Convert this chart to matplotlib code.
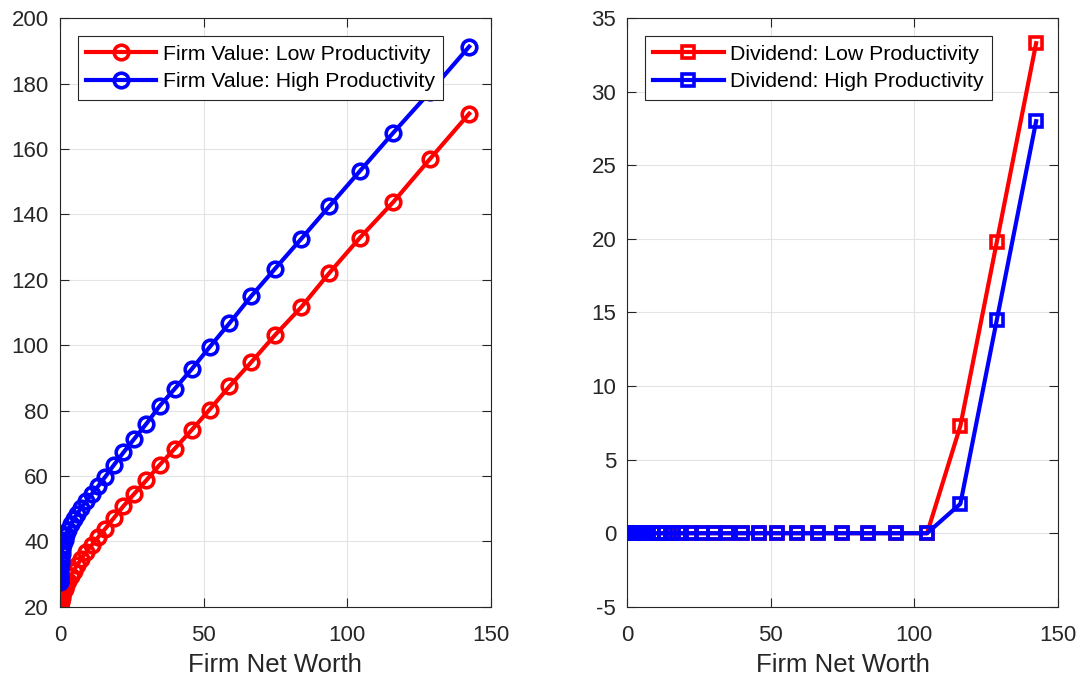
import matplotlib
matplotlib.use("Agg")
import matplotlib.pyplot as plt

plt.rcParams["font.family"] = ["Liberation Sans", "DejaVu Sans"]
plt.rcParams["axes.unicode_minus"] = False

# net worth grid (dense near zero)
net_worth = [0.0, 0.0001, 0.001, 0.005, 0.015, 0.035, 0.073, 0.135, 0.23, 0.37,
             0.56, 0.83, 1.17, 1.62, 2.18, 2.87, 3.71, 4.73, 5.95, 7.38,
             9.06, 11.0, 13.3, 15.8, 18.8, 22.1, 25.9, 30.1, 34.8, 40.0,
             45.8, 52.1, 59.0, 66.6, 74.9, 84.0, 93.8, 104.5, 116.1, 128.8,
             142.5]

value_low = [20.0, 20.0, 20.0, 20.1, 20.3, 20.5, 20.7, 21.1, 21.5, 22.1,
             22.7, 23.5, 24.4, 25.5, 26.6, 27.9, 29.4, 31.0, 32.7, 34.6,
             36.7, 38.8, 41.3, 43.9, 47.2, 50.8, 54.6, 58.7, 63.5, 68.4,
             74.0, 80.3, 87.4, 94.8, 103.1, 111.6, 122.1, 132.9, 143.8, 156.9,
             170.8]

value_high = [27.5, 27.8, 28.2, 28.8, 29.5, 30.3, 31.3, 32.3, 33.5, 34.7,
              36.0, 37.4, 38.9, 40.5, 42.0, 43.6, 45.2, 46.8, 48.4, 50.2,
              52.2, 54.4, 56.9, 59.8, 63.4, 67.2, 71.4, 76.0, 81.5, 86.7,
              92.6, 99.4, 106.7, 115.0, 123.4, 132.5, 142.5, 153.3, 165.0, 177.4,
              191.3]

div_low = [0.0, 0.0, 0.0, 0.0, 0.0, 0.0, 0.0, 0.0, 0.0, 0.0,
           0.0, 0.0, 0.0, 0.0, 0.0, 0.0, 0.0, 0.0, 0.0, 0.0,
           0.0, 0.0, 0.0, 0.0, 0.0, 0.0, 0.0, 0.0, 0.0, 0.0,
           0.0, 0.0, 0.0, 0.0, 0.0, 0.0, 0.0, 0.0, 7.3, 19.8,
           33.3]

div_high = [0.0, 0.0, 0.0, 0.0, 0.0, 0.0, 0.0, 0.0, 0.0, 0.0,
            0.0, 0.0, 0.0, 0.0, 0.0, 0.0, 0.0, 0.0, 0.0, 0.0,
            0.0, 0.0, 0.0, 0.0, 0.0, 0.0, 0.0, 0.0, 0.0, 0.0,
            0.0, 0.0, 0.0, 0.0, 0.0, 0.0, 0.0, 0.0, 2.0, 14.5,
            28.0]

x_ticks = [0, 50, 100, 150]
value_ticks = [20, 40, 60, 80, 100, 120, 140, 160, 180, 200]
div_ticks = [-5, 0, 5, 10, 15, 20, 25, 30, 35]

DARK = "#262626"

fig = plt.figure(figsize=(10.83, 6.83), dpi=100)
ax1 = fig.add_axes([0.0554, 0.1116, 0.3977, 0.8618])
ax2 = fig.add_axes([0.5792, 0.1116, 0.3974, 0.8618])


def style_axes(ax, yticks, ylim):
    ax.set_xlim(0, 150)
    ax.set_ylim(*ylim)
    ax.set_xticks(x_ticks)
    ax.set_yticks(yticks)
    ax.grid(True, color="#e3e3e3", linewidth=0.8)
    ax.set_axisbelow(True)
    for s in ax.spines.values():
        s.set_color(DARK)
        s.set_linewidth(0.8)
    ax.tick_params(direction="in", top=True, right=True, length=6.5, width=0.8,
                   color=DARK, labelcolor=DARK, labelsize=16)
    ax.tick_params(axis="x", pad=13)
    ax.tick_params(axis="y", pad=8)
    ax.set_xlabel("Firm Net Worth", fontsize=18.5, color=DARK, labelpad=5)


line_kw = dict(linewidth=3.0, markerfacecolor="none", markeredgewidth=2.6)

ax1.plot(net_worth, value_low, color="red", marker="o", markersize=10.5,
         label="Firm Value: Low Productivity", **line_kw)
ax1.plot(net_worth, value_high, color="blue", marker="o", markersize=10.5,
         label="Firm Value: High Productivity", **line_kw)
style_axes(ax1, value_ticks, (20, 200))

ax2.plot(net_worth, div_low, color="red", marker="s", markersize=8.5,
         label="Dividend: Low Productivity", **line_kw)
ax2.plot(net_worth, div_high, color="blue", marker="s", markersize=8.5,
         label="Dividend: High Productivity", **line_kw)
style_axes(ax2, div_ticks, (-5, 35))

for ax in (ax1, ax2):
    leg = ax.legend(loc="upper left", bbox_to_anchor=(0.041, 0.969),
                    borderaxespad=0, fontsize=15.3, fancybox=False,
                    framealpha=1, edgecolor=DARK, handlelength=3.3,
                    handletextpad=0.3, labelspacing=0.4, borderpad=0.4)
    leg.get_frame().set_linewidth(0.8)

fig.savefig("out.png", dpi=100)
